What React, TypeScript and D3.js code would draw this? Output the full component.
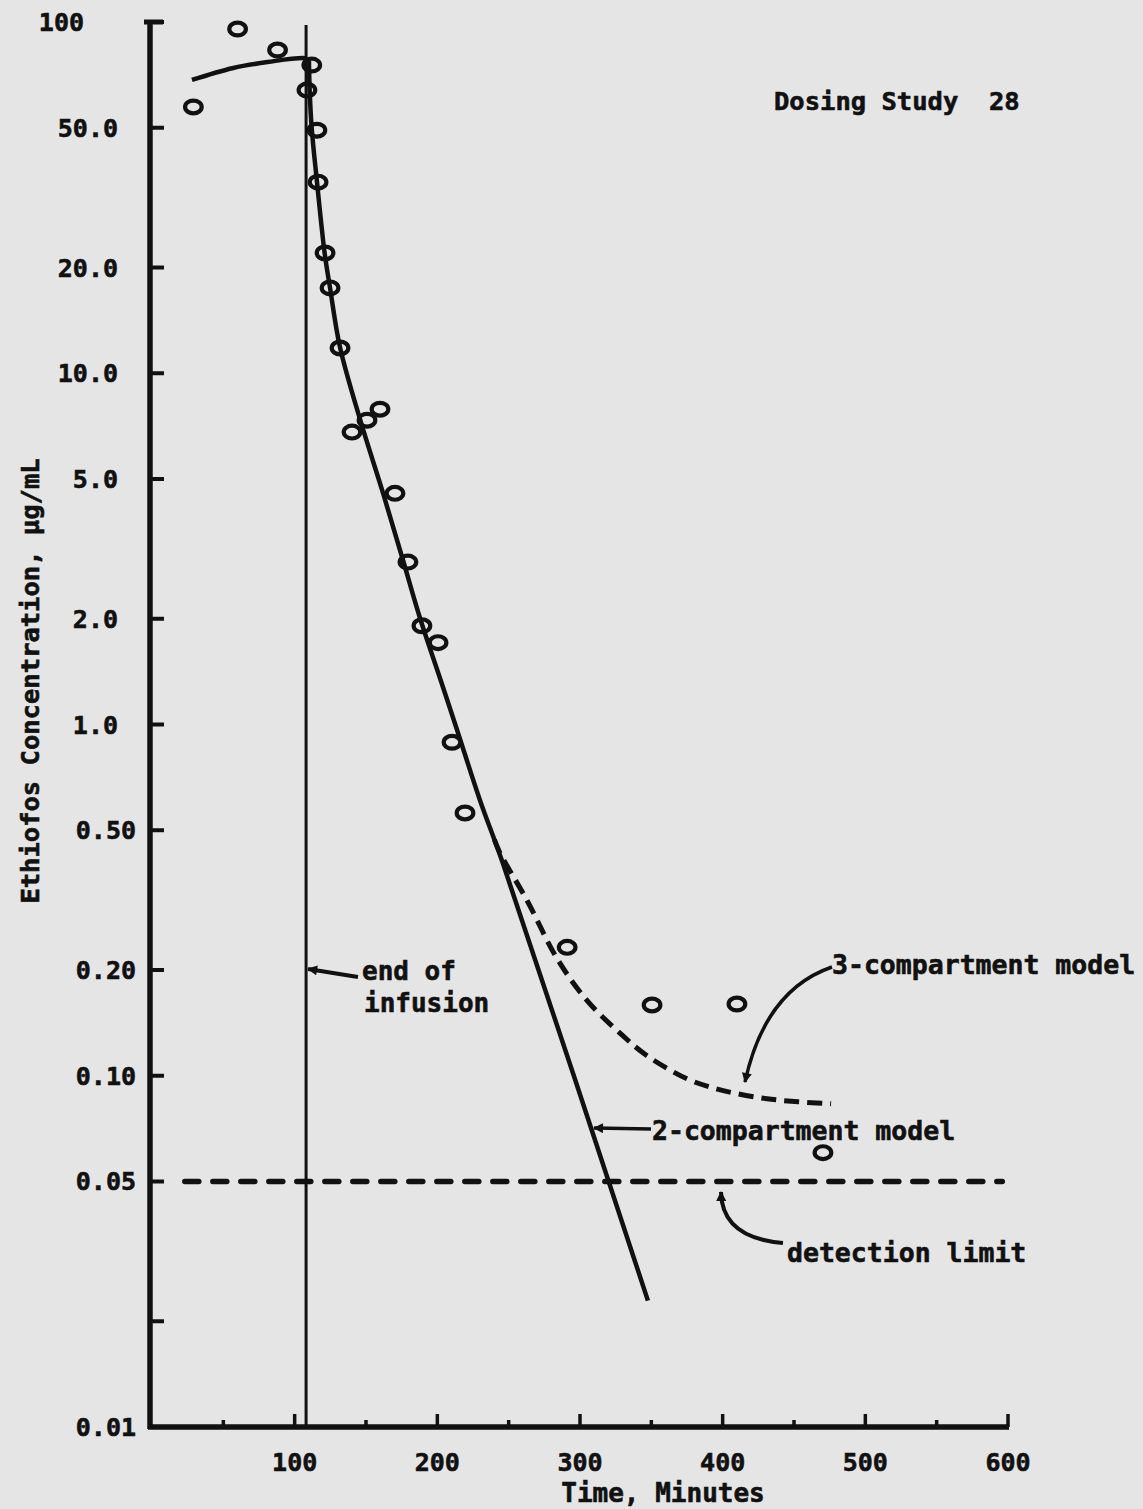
import React from "react";
import * as d3 from "d3";

const W = 1143;
const H = 1509;

// Observed concentrations (circles)
const obsTime = [29, 60, 88, 108.6, 112, 115.6, 116.4, 121.3, 124.8, 131.8, 140.2, 150.7, 159.8, 170.3, 179.4, 189.2, 200.5, 210.3, 219.4, 291, 350.5, 410, 470.3];
const obsConc = [57.3, 95.5, 83.2, 64.0, 75.4, 49.2, 35.0, 22.0, 17.5, 11.8, 6.8, 7.35, 7.9, 4.55, 2.9, 1.91, 1.71, 0.89, 0.56, 0.232, 0.159, 0.16, 0.0604];

// 2-compartment model fit (solid): infusion phase, then post-infusion decay
const infusionTime = [28, 57, 81, 106, 110];
const infusionConc = [68.4, 74, 76.9, 79, 77.5];
const twoCompTime = [110, 110.5, 112, 115.5, 121, 124.7, 131.7, 146, 162, 176, 188, 202, 214, 230, 246, 347.6];
const twoCompConc = [77.5, 64, 49.5, 35.5, 22, 17.6, 11.9, 7.35, 4.55, 2.93, 2.0, 1.35, 0.96, 0.607, 0.402, 0.0229];

// 3-compartment model fit (dashed)
const threeCompTime = [240, 244, 263, 284, 305, 330, 347, 375, 393, 410, 431, 453, 476];
const threeCompConc = [0.47, 0.43, 0.315, 0.2154, 0.1636, 0.13, 0.114, 0.098, 0.0924, 0.0889, 0.086, 0.0843, 0.0832];

const detectionLimit = 0.05;
const detectionRange = [23, 596];
const infusionEnd = 108;

const yTicks = [100, 50, 20, 10, 5, 2, 1, 0.5, 0.2, 0.1, 0.05, 0.02, 0.01];
const yTickLabels = ["100", "50.0", "20.0", "10.0", "5.0", "2.0", "1.0", "0.50", "0.20", "0.10", "0.05", "", "0.01"];
const xMajorTicks = [100, 200, 300, 400, 500, 600];
const xMinorTicks = [50, 150, 250, 350, 450, 550];

const title = "Dosing Study  28";
const xTitle = "Time, Minutes";
const yTitle = "Ethiofos Concentration, \u03bcg/mL";

const INK = "#111";
const FONT = "'DejaVu Sans Mono', 'Liberation Mono', monospace";

export default function App() {
  const x = d3.scaleLinear().domain([0, 600]).range([152, 1008]);
  const y = d3.scaleLog().domain([0.01, 100]).range([1427, 22]);

  const smooth = d3
    .line<[number, number]>()
    .x((d) => x(d[0]))
    .y((d) => y(d[1]))
    .curve(d3.curveCatmullRom.alpha(0.5));
  const mono = d3
    .line<[number, number]>()
    .x((d) => x(d[0]))
    .y((d) => y(d[1]))
    .curve(d3.curveMonotoneX);

  const infusion = infusionTime.map((t, i) => [t, infusionConc[i]] as [number, number]);
  const twoComp = twoCompTime.map((t, i) => [t, twoCompConc[i]] as [number, number]);
  const threeComp = threeCompTime.map((t, i) => [t, threeCompConc[i]] as [number, number]);

  const axisX = x(0) - 2;
  const axisY = y(0.01);

  const labelRight = (v: number) => (v >= 100 ? 84 : v >= 1 ? 118 : 136);

  const textStyle = {
    fontFamily: FONT,
    fontWeight: 700,
    fill: INK,
    stroke: INK,
    strokeWidth: 0.6,
    whiteSpace: "pre",
  } as const;

  return (
    <svg
      width={W}
      height={H}
      style={{ position: "absolute", left: 0, top: 0, display: "block" }}
    >
      <defs>
        <marker
          id="ah"
          viewBox="0 0 10 10"
          refX="9"
          refY="5"
          markerWidth="16"
          markerHeight="10"
          markerUnits="userSpaceOnUse"
          orient="auto"
        >
          <path d="M0,0 L10,5 L0,10 Z" fill={INK} />
        </marker>
      </defs>
      <rect x={0} y={0} width={W} height={H} fill="#e5e5e5" />

      {/* Y axis */}
      <line x1={axisX} x2={axisX} y1={y(100) - 2} y2={axisY + 2} stroke={INK} strokeWidth={5.5} />
      <line x1={axisX - 6} x2={axisX + 13} y1={y(100)} y2={y(100)} stroke={INK} strokeWidth={5} />
      {yTicks.map((v, i) => (
        <g key={"yt" + i}>
          <line x1={axisX} x2={axisX + 14} y1={y(v)} y2={y(v)} stroke={INK} strokeWidth={4} />
          {yTickLabels[i] && (
            <text
              x={labelRight(v)}
              y={y(v)}
              dy="0.36em"
              textAnchor="end"
              fontSize={25}
              style={textStyle}
            >
              {yTickLabels[i]}
            </text>
          )}
        </g>
      ))}

      {/* X axis */}
      <line x1={axisX - 2} x2={x(600) + 1} y1={axisY} y2={axisY} stroke={INK} strokeWidth={5.5} />
      {xMajorTicks.map((t) => (
        <g key={"xM" + t}>
          <line x1={x(t)} x2={x(t)} y1={axisY} y2={axisY - 13} stroke={INK} strokeWidth={3.5} />
          <text x={x(t)} y={axisY + 44} textAnchor="middle" fontSize={25} style={textStyle}>
            {t}
          </text>
        </g>
      ))}
      {xMinorTicks.map((t) => (
        <line key={"xm" + t} x1={x(t)} x2={x(t)} y1={axisY} y2={axisY - 7} stroke={INK} strokeWidth={3.5} />
      ))}

      {/* End of infusion line */}
      <line x1={x(infusionEnd)} x2={x(infusionEnd)} y1={25} y2={axisY} stroke={INK} strokeWidth={3} />

      {/* Detection limit */}
      <line
        x1={x(detectionRange[0])}
        x2={x(detectionRange[1])}
        y1={y(detectionLimit)}
        y2={y(detectionLimit)}
        stroke={INK}
        strokeWidth={5.5}
        strokeDasharray="14 14"
        strokeLinecap="round"
      />

      {/* Model fits */}
      <path d={mono(infusion) || ""} fill="none" stroke={INK} strokeWidth={4.5} strokeLinejoin="round" />
      <path d={smooth(twoComp) || ""} fill="none" stroke={INK} strokeWidth={4.5} strokeLinejoin="round" />
      <path
        d={smooth(threeComp) || ""}
        fill="none"
        stroke={INK}
        strokeWidth={5}
        strokeDasharray="15 8"
      />

      {/* Observations */}
      {obsTime.map((t, i) => (
        <ellipse
          key={"o" + i}
          cx={x(t)}
          cy={y(obsConc[i])}
          rx={8.3}
          ry={6.4}
          fill="none"
          stroke={INK}
          strokeWidth={4.2}
        />
      ))}

      {/* Annotations */}
      <line x1={358} y1={977} x2={x(infusionEnd) + 2} y2={y(0.2) - 1} stroke={INK} strokeWidth={4} markerEnd="url(#ah)" />
      <text x={362} y={980} fontSize={26} style={textStyle}>end of</text>
      <text x={364} y={1012} fontSize={26} style={textStyle}>infusion</text>

      <path d="M832,967 Q 765,990 745,1082" fill="none" stroke={INK} strokeWidth={3.5} markerEnd="url(#ah)" />
      <text x={832} y={974} fontSize={26.5} style={textStyle}>3-compartment model</text>

      <line x1={651} y1={1129} x2={594} y2={1128} stroke={INK} strokeWidth={3.5} markerEnd="url(#ah)" />
      <text x={652} y={1140} fontSize={26.5} style={textStyle}>2-compartment model</text>

      <path d="M783,1243 Q 722,1238 721,1192" fill="none" stroke={INK} strokeWidth={4} markerEnd="url(#ah)" />
      <text x={787} y={1262} fontSize={26.5} style={textStyle}>detection limit</text>

      <text x={774} y={110} fontSize={25.5} style={textStyle}>{title}</text>

      <text x={663} y={1502} textAnchor="middle" fontSize={26} style={textStyle}>{xTitle}</text>
      <text
        transform="translate(39,681) rotate(-90)"
        textAnchor="middle"
        fontSize={25.5}
        style={textStyle}
      >
        {yTitle}
      </text>
    </svg>
  );
}
